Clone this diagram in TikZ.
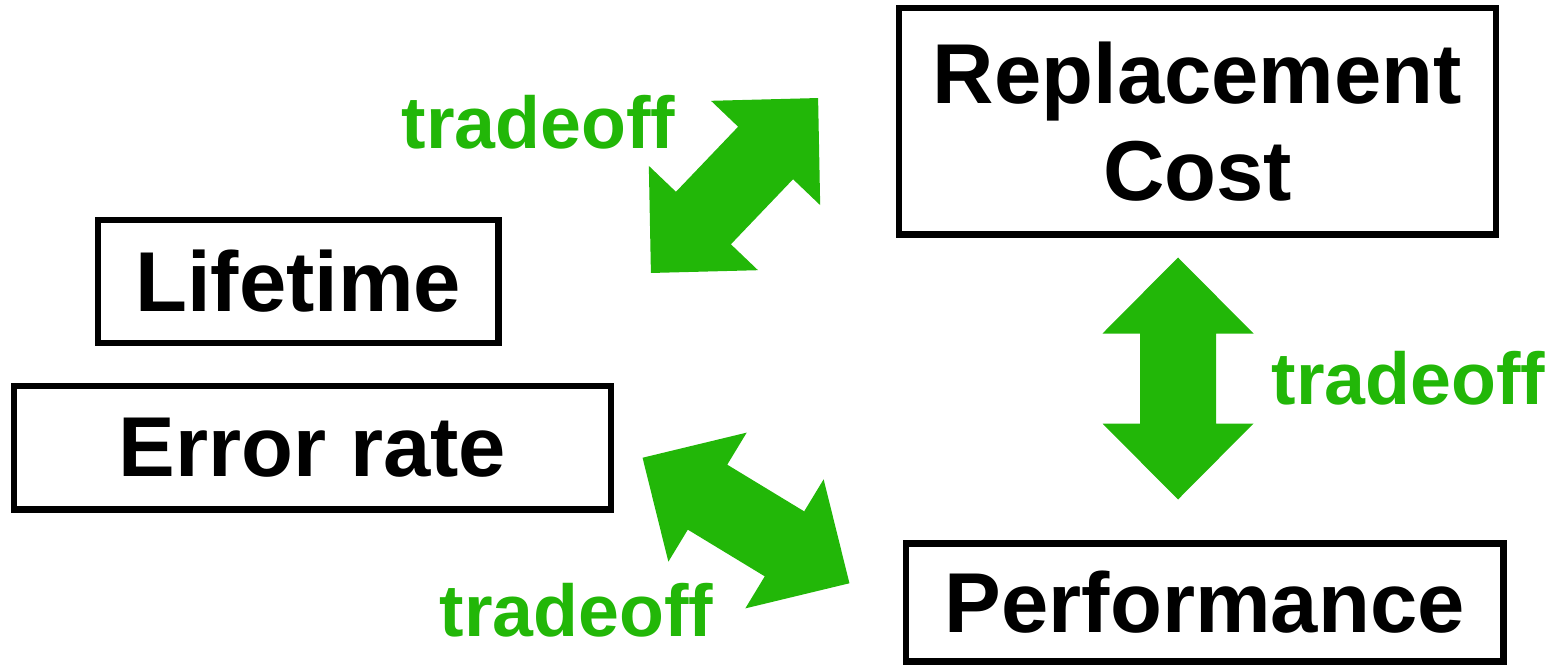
\documentclass[tikz,border=0pt]{standalone}
\usepackage{fontspec}
\setmainfont{Liberation Sans}
\definecolor{tradegreen}{RGB}{34,183,8}
\begin{document}
\begin{tikzpicture}[x=1pt,y=-1pt,
  box/.style={draw=black, line width=6.5pt, inner sep=0pt, align=center,
    font=\fontsize{85}{97}\selectfont\bfseries},
  tlabel/.style={text=tradegreen, inner sep=0pt, anchor=base,
    font=\fontsize{73.5}{80}\selectfont\bfseries},
  dblarrow/.pic={\fill[tradegreen] (-121,0) -- (-45,75.5) -- (-45,38) -- (45,38)
      -- (45,75.5) -- (121,0) -- (45,-75.5) -- (45,-38) -- (-45,-38)
      -- (-45,-75.5) -- cycle;}
]
\useasboundingbox (0,0) rectangle (1553,665);
% boxes
\node[box, minimum width=597pt, minimum height=226.5pt] (cost) at (1197.5,121.25) {Replacement\\Cost};
\node[box, minimum width=400.5pt, minimum height=123pt] (life) at (298.25,281.5) {Lifetime};
\node[box, minimum width=597pt, minimum height=123.5pt] (err) at (312.5,447.75) {Error rate};
\node[box, minimum width=597.5pt, minimum height=118pt] (perf) at (1204.75,602.5) {Performance};
% arrows
\pic[rotate=46.3] (a1) at (734.5,185.5) {dblarrow};
\pic[rotate=90] (a2) at (1178,378.5) {dblarrow};
\pic[rotate=-31.25] (a3) at (746,520.5) {dblarrow};
% labels
\node[tlabel] (t1) at (538.5,148) {tradeoff};
\node[tlabel] (t2) at (1408.5,404) {tradeoff};
\node[tlabel] (t3) at (576.5,636) {tradeoff};
\end{tikzpicture}
\end{document}
